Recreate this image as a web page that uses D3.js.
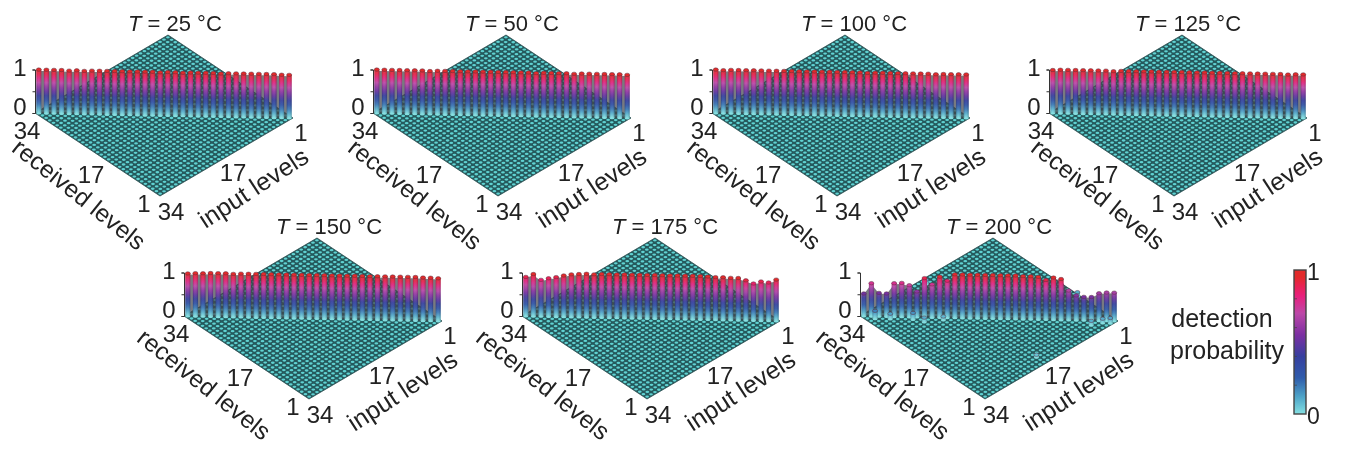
<!DOCTYPE html>
<html>
<head>
<meta charset="utf-8">
<style>
  body { margin: 0; background: #fff; }
  svg { display: block; filter: blur(0.35px); }
  text { font-family: "Liberation Sans", Arial, sans-serif; fill: #222; }
</style>
<script src="https://cdn.jsdelivr.net/npm/d3@7"></script>
</head>
<body>
<div id="wrapper"></div>
<script>
// values: detection probability on the diagonal,
// listed from level 34 (left corner) to level 1 (right corner)
const temperatures = [25, 50, 100, 125, 150, 175, 200]
const diagonal25 = [1, 1, 1, 1, 0.99, 1, 0.99, 1, 1, 1, 1, 1, 1, 1, 1, 1, 0.99, 1, 1, 0.99, 1, 1, 1, 1, 0.99, 1, 1, 1, 1, 1, 1, 1, 0.99, 0.99]
const diagonal50 = [1, 1, 1, 1, 1, 1, 1, 0.99, 1, 1, 1, 1, 1, 1, 1, 1, 1, 1, 1, 1, 1, 0.99, 1, 1, 1, 1, 0.99, 1, 1, 1, 1, 1, 1, 0.99]
const diagonal100 = [1, 0.99, 1, 1, 1, 1, 1, 1, 1, 1, 1, 1, 1, 1, 1, 1, 1, 1, 1, 1, 0.99, 1, 1, 1, 1, 1, 1, 1, 1, 0.99, 1, 1, 1, 1]
const diagonal125 = [0.99, 1, 1, 1, 1, 1, 1, 1, 0.99, 1, 1, 1, 1, 1, 1, 1, 1, 1, 1, 1, 1, 1, 1, 1, 1, 1, 1, 1, 1, 1, 1, 0.99, 1, 1]
const diagonal150 = [0.98, 0.99, 0.99, 1, 1, 1, 0.99, 1, 1, 1, 1, 1, 1, 1, 1, 1, 1, 1, 1, 1, 1, 1, 1, 1, 1, 1, 1, 1, 1, 1, 1, 0.99, 0.99, 0.98]
const diagonal175 = [0.9, 0.97, 0.84, 0.88, 0.91, 0.95, 0.98, 0.99, 1, 0.99, 1, 1, 1, 1, 1, 1, 1, 1, 1, 1, 1, 1, 1, 1, 0.99, 0.98, 0.98, 0.97, 0.97, 0.92, 0.85, 0.9, 0.88, 0.95]
const diagonal200 = [0.52, 0.76, 0.54, 0.53, 0.77, 0.78, 0.73, 0.59, 0.9, 0.76, 0.94, 0.85, 1, 1, 1, 1, 1, 1, 1, 1, 1, 0.99, 0.99, 0.98, 0.91, 0.97, 0.94, 0.68, 0.57, 0.54, 0.54, 0.63, 0.65, 0.65]
const diagonals = [diagonal25, diagonal50, diagonal100, diagonal125, diagonal150, diagonal175, diagonal200]
// stray cells at 200 C: [input level, received level, probability]
const strayCells200 = [[33, 32, 0.18], [31, 30, 0.12], [28, 27, 0.15], [27, 25, 0.1], [24, 23, 0.08], [3, 2, 0.1], [5, 3, 0.1], [2, 1, 0.12], [19, 3, 0.06], [19, 33, 0.1], [1, 11, 0.1]]

const levels = d3.range(1, 35)
const levelTicks = [1, 17, 34]
const probTicks = [0, 0.5, 1]
const colorStops = [0, 0.12, 0.25, 0.4, 0.55, 0.7, 0.82, 0.9, 0.95, 1]
const colorValues = ["#84e0e2", "#4ea4c8", "#2f5cab", "#363f9f", "#7c2fa2", "#bd48a8", "#e81f7c", "#e8234c", "#e22a2a", "#e22a2a"]

// where each panel sits, relative to the first one
const panelDx = [0, 338, 677, 1014, 149, 487, 825]
const panelDy = [0, 0, 0, 0, 203, 203, 203]
const titleX = [128, 465, 801, 1135, 276, 612, 946]
// the "received levels" label does not follow its panel exactly
const receivedDx = [0, -2, -2, 5, -24, -23, -21]
const receivedDy = [0, 0, 0, 0, -13, -13, -13]

function drawChart() {
  const dimensions = { width: 1366, height: 454 }

  const svg = d3.select("#wrapper")
    .append("svg")
      .attr("width", dimensions.width)
      .attr("height", dimensions.height)
  const defs = svg.append("defs")

  // scales: each level axis moves along its own edge of the floor,
  // the floor reaches half a cell past levels 1 and 34
  const edge = [0.5, 34.5]
  const inputX = d3.scaleLinear().domain(edge).range([293, 160])
  const inputY = d3.scaleLinear().domain(edge).range([118, 196])
  const receivedX = d3.scaleLinear().domain(edge).range([0, -125])
  const receivedY = d3.scaleLinear().domain(edge).range([0, -83])
  const zScale = d3.scaleLinear().domain([0, 1]).range([0, -43.5])
  const colorScale = d3.scaleLinear().domain(colorStops).range(colorValues)

  const project = (input, received) => [
    inputX(input) + receivedX(received),
    inputY(input) + receivedY(received)
  ]

  const shade = defs.append("linearGradient").attr("id", "shade")
  shade.append("stop").attr("offset", 0).attr("stop-color", "#000").attr("stop-opacity", 0.2)
  shade.append("stop").attr("offset", 0.45).attr("stop-color", "#fff").attr("stop-opacity", 0.05)
  shade.append("stop").attr("offset", 1).attr("stop-color", "#000").attr("stop-opacity", 0.22)

  let barCount = 0
  function drawBar(group, input, received, p) {
    const [x, y] = project(input, received)
    const top = y + zScale(p)
    const id = `bar-${barCount++}`
    const gradient = defs.append("linearGradient")
      .attr("id", id)
      .attr("x1", 0).attr("x2", 0).attr("y1", 1).attr("y2", 0)
    d3.range(0, 1.01, 0.1).forEach(t => {
      gradient.append("stop")
        .attr("offset", t)
        .attr("stop-color", colorScale(t * p))
    })
    const bar = group.append("g")
    bar.append("ellipse")
      .attr("cx", x)
      .attr("cy", y)
      .attr("rx", 2.5)
      .attr("ry", 1.5)
      .attr("fill", colorScale(0))
    bar.append("rect")
      .attr("x", x - 2.5)
      .attr("y", top)
      .attr("width", 5)
      .attr("height", y - top)
      .attr("fill", `url(#${id})`)
    bar.append("rect")
      .attr("x", x - 2.5)
      .attr("y", top)
      .attr("width", 5)
      .attr("height", y - top)
      .attr("fill", "url(#shade)")
    bar.append("ellipse")
      .attr("cx", x)
      .attr("cy", top)
      .attr("rx", 2.5)
      .attr("ry", 1.7)
      .attr("fill", colorScale(p))
      .attr("stroke", "#5a3040")
      .attr("stroke-width", 0.5)
  }

  temperatures.forEach((temperature, k) => {
    const panel = svg.append("g")
      .attr("transform", `translate(${panelDx[k]}, ${panelDy[k]})`)

    // floor of the plot
    const corners = [[0.5, 0.5], [34.5, 0.5], [34.5, 34.5], [0.5, 34.5]].map(d => project(d[0], d[1]))
    panel.append("polygon")
      .attr("points", corners.join(" "))
      .attr("fill", "#25595c")

    const cells = levels.flatMap(input => levels.map(received => ({ input, received })))
    panel.append("g")
      .selectAll("ellipse")
      .data(cells)
      .join("ellipse")
        .attr("cx", d => project(d.input, d.received)[0])
        .attr("cy", d => project(d.input, d.received)[1])
        .attr("rx", 1.9)
        .attr("ry", 1.15)
        .attr("fill", "#60d2d2")

    panel.append("polygon")
      .attr("points", corners.join(" "))
      .attr("fill", "none")
      .attr("stroke", "#2a4f50")
      .attr("stroke-width", 0.8)

    // z axis at the left corner
    const [zX, zY] = project(34.5, 34.5)
    const zAxis = d3.axisLeft(zScale)
      .tickValues(probTicks)
      .tickSize(2.5)
      .tickFormat("")
    panel.append("g")
      .attr("transform", `translate(${zX}, ${zY})`)
      .call(zAxis)
      .call(g => g.selectAll("path, line").attr("stroke", "#333"))

    // what shows in the gaps between the bars is darker than the floor
    const backing = d3.area()
      .x((d, i) => project(34 - i, 34 - i)[0])
      .y0((d, i) => project(34 - i, 34 - i)[1])
      .y1((d, i) => project(34 - i, 34 - i)[1] + zScale(d * 0.97))
    panel.append("path")
      .attr("d", backing(diagonals[k]))
      .attr("fill", "#44474f")
      .attr("opacity", 0.72)

    const bars = panel.append("g")
    const stray = temperature === 200 ? strayCells200 : []
    const marks = diagonals[k].map((p, i) => [34 - i, 34 - i, p]).concat(stray)
    marks.sort((a, b) => project(a[0], a[1])[1] - project(b[0], b[1])[1])
    marks.forEach(d => drawBar(bars, d[0], d[1], d[2]))

    // title
    const title = panel.append("text")
      .attr("x", titleX[k] - panelDx[k])
      .attr("y", 31)
      .attr("font-size", 22)
    title.append("tspan").attr("font-style", "italic").text("T")
    title.append("tspan").text(` = ${temperature} °C`)

    // tick labels
    const label = (x, y, text) => panel.append("text")
      .attr("x", x).attr("y", y)
      .attr("text-anchor", "middle")
      .attr("font-size", 24)
      .text(text)
    label(20, 75.5, probTicks[2])
    label(20, 115, probTicks[0])
    label(27, 138.5, levelTicks[2])
    label(91, 182.5, levelTicks[1])
    label(144, 212, levelTicks[0])
    label(171, 219.5, levelTicks[2])
    label(233, 180.5, levelTicks[1])
    label(301, 140.5, levelTicks[0])

    // axis titles
    panel.append("text")
      .attr("transform", `translate(${74 + receivedDx[k]}, ${201 + receivedDy[k]}) rotate(38.5)`)
      .attr("text-anchor", "middle")
      .attr("font-size", 24.5)
      .text("received levels")
    panel.append("text")
      .attr("transform", "translate(258, 195) rotate(-33)")
      .attr("text-anchor", "middle")
      .attr("font-size", 25)
      .text("input levels")
  })

  // colour bar
  const barScale = d3.scaleLinear().domain([0, 1]).range([414, 270])
  const legend = defs.append("linearGradient")
    .attr("id", "legend")
    .attr("x1", 0).attr("x2", 0).attr("y1", 1).attr("y2", 0)
  colorStops.forEach((t, i) => {
    legend.append("stop").attr("offset", t).attr("stop-color", colorValues[i])
  })
  svg.append("rect")
    .attr("x", 1294)
    .attr("y", barScale(1))
    .attr("width", 12)
    .attr("height", barScale(0) - barScale(1))
    .attr("fill", "url(#legend)")
    .attr("stroke", "#444")
    .attr("stroke-width", 1.4)
  svg.append("g")
    .selectAll("line")
    .data([0.2, 0.4, 0.6, 0.8])
    .join("line")
      .attr("x1", 1294)
      .attr("x2", 1297)
      .attr("y1", d => barScale(d))
      .attr("y2", d => barScale(d))
      .attr("stroke", "#444")
      .attr("stroke-width", 0.7)
  svg.append("text").attr("x", 1307).attr("y", 280).attr("font-size", 23).text(1)
  svg.append("text").attr("x", 1307).attr("y", 424).attr("font-size", 23).text(0)
  svg.append("text")
    .attr("x", 1222).attr("y", 327)
    .attr("text-anchor", "middle").attr("font-size", 25)
    .text("detection")
  svg.append("text")
    .attr("x", 1227).attr("y", 359)
    .attr("text-anchor", "middle").attr("font-size", 25)
    .text("probability")
}

drawChart()
</script>
</body>
</html>
